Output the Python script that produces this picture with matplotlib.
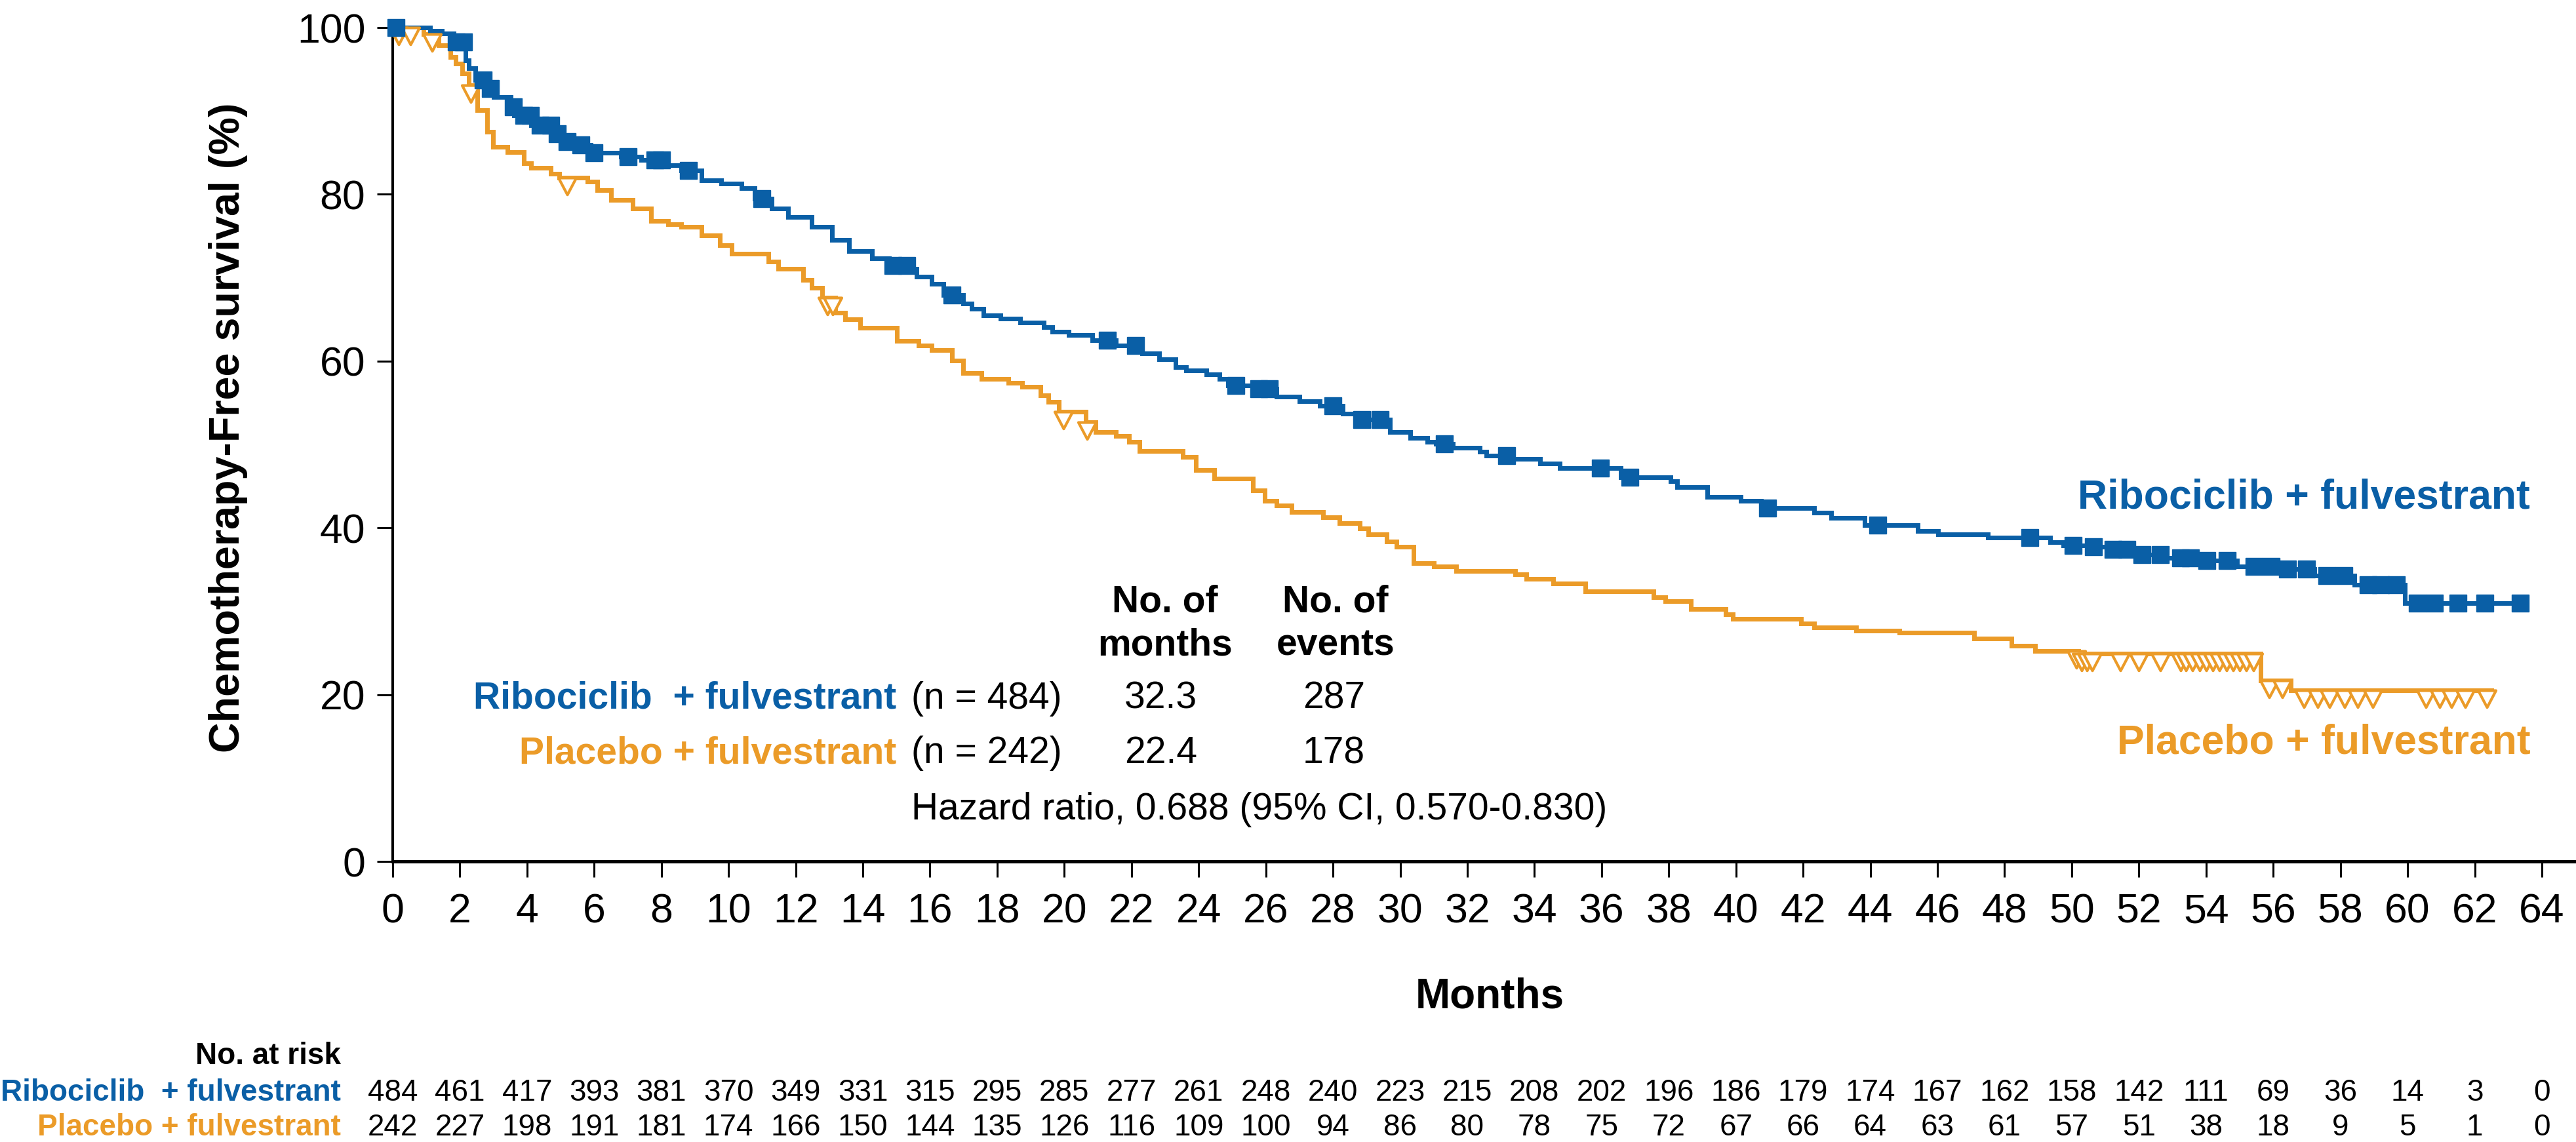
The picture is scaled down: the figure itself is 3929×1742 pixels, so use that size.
import numpy as np
import matplotlib
matplotlib.use("Agg")
import matplotlib.pyplot as plt
from matplotlib.path import Path
from matplotlib.transforms import blended_transform_factory

plt.rcParams['font.family'] = ['Liberation Sans', 'DejaVu Sans']

BLUE = '#0a5fa6'
ORANGE = '#eb9b28'

# ---------------- data ----------------
ribo_times = [0, 1.12, 1.47, 1.82, 2.17, 2.27, 2.46, 2.71, 3.01, 3.51, 3.61, 4.11, 4.71, 5.0,
              5.55, 5.9, 6.8, 7.4, 8.09, 8.59, 9.19, 9.79, 10.39, 10.78, 11.28, 11.78, 12.48,
              13.08, 13.58, 14.27, 14.77, 15.45, 15.6, 16.05, 16.4, 16.99, 17.24, 17.59, 18.09,
              18.69, 19.39, 19.64, 20.13, 20.83, 21.53, 22.32, 22.82, 23.32, 23.62, 24.22, 24.62,
              24.87, 25.61, 26.31, 27.0, 27.6, 28.3, 28.7, 29.7, 30.3, 30.8, 31.07, 31.57, 32.37,
              32.57, 33.37, 34.16, 34.76, 36.56, 38.05, 38.25, 39.15, 40.14, 40.74, 42.33, 42.83,
              43.83, 45.42, 46.02, 47.5, 49.35, 49.74, 50.53, 51.08, 51.74, 52.84, 53.72, 54.93,
              56.02, 57.22, 58.41, 59.91]
ribo_surv = [100, 99.6, 99.3, 98.3, 96.1, 95.1, 93.7, 92.7, 91.7, 90.5, 89.5, 88.3, 87.3, 86.3,
             85.9, 85.0, 84.5, 84.1, 83.5, 82.9, 81.7, 81.3, 80.7, 79.5, 78.3, 77.3, 76.1,
             74.5, 73.2, 72.3, 71.5, 71.1, 70.1, 69.3, 67.9, 66.9, 66.3, 65.5, 65.1,
             64.6, 64.1, 63.5, 63.1, 62.5, 61.9, 60.9, 60.2, 59.3, 58.9, 58.4, 57.9,
             57.1, 56.7, 55.7, 55.2, 54.6, 53.7, 53.0, 51.5, 50.8, 50.3, 50.1, 49.6, 49.1,
             48.7, 48.3, 47.7, 47.2, 46.1, 45.6, 44.9, 43.7, 43.2, 42.4, 41.8, 41.2,
             40.3, 39.6, 39.2, 38.8, 38.3, 37.9, 37.7, 37.4, 36.8, 36.4, 36.1, 35.4,
             35.1, 34.3, 33.2, 31.0]
ribo_end = 63.4
ribo_censor = [0.1, 1.9, 2.1, 2.7, 2.9, 3.6, 3.9, 4.1, 4.4, 4.7, 4.9, 5.2, 5.6, 6.0, 7.0, 7.8,
               8.0, 8.8, 11.0, 14.9, 15.3, 16.65, 21.28, 22.13, 25.11, 25.8, 26.1, 28.0, 28.85,
               29.4, 31.32, 33.17, 35.96, 36.85, 40.94, 44.23, 48.75, 50.05, 50.65, 51.24,
               51.64, 52.09, 52.64, 53.24, 53.53, 54.03, 54.63, 55.43, 55.93, 56.42, 57.0,
               57.6, 58.1, 58.82, 59.2, 59.66, 60.3, 60.8, 61.5, 62.3, 63.35]

plac_times = [0, 0.92, 1.37, 1.72, 1.87, 2.07, 2.27, 2.51, 2.81, 2.99, 3.41, 3.91, 4.11, 4.71,
              4.96, 5.8, 6.1, 6.5, 7.15, 7.7, 8.2, 8.59, 9.19, 9.74, 10.09, 11.18, 11.48, 12.23,
              12.48, 12.78, 13.18, 13.48, 13.92, 15.02, 15.65, 16.05, 16.65, 16.99, 17.54, 18.34,
              18.74, 19.29, 19.53, 19.83, 20.63, 20.93, 21.53, 21.93, 22.23, 23.52, 23.92, 24.47,
              25.61, 25.96, 26.31, 26.76, 27.7, 28.2, 28.8, 29.05, 29.6, 29.9, 30.4, 31.0, 31.67,
              33.42, 33.76, 34.56, 35.51, 37.55, 37.9, 38.65, 39.7, 39.9, 41.94, 42.33, 43.58,
              44.87, 47.1, 48.2, 48.9, 50.2, 55.63, 56.52]
plac_surv = [100, 99.2, 97.9, 96.5, 95.7, 94.5, 93.1, 90.1, 87.5, 85.7, 85.1, 83.7, 83.2, 82.5,
             82.0, 81.5, 80.5, 79.3, 78.3, 76.8, 76.4, 76.1, 75.1, 73.9, 72.9, 71.9, 71.1, 69.7,
             68.8, 67.6, 65.8, 65.0, 64.0, 62.4, 61.9, 61.3, 60.1, 58.6, 57.9, 57.4,
             56.9, 55.9, 55.1, 53.9, 52.7, 51.5, 51.0, 50.3, 49.2, 48.5, 46.9, 45.9,
             44.5, 43.2, 42.7, 41.9, 41.3, 40.6, 39.9, 39.2, 38.4, 37.7, 35.8, 35.4, 34.8,
             34.4, 33.9, 33.3, 32.4, 31.7, 31.2, 30.3, 29.6, 29.1, 28.5, 28.1, 27.7,
             27.4, 26.7, 25.9, 25.2, 24.9, 21.7, 20.5]
plac_end = 62.5
plac_censor = [0.17, 0.52, 1.17, 2.33, 5.2, 12.95, 13.1, 19.98, 20.68, 50.14, 50.3, 50.45,
               50.6, 51.44, 51.99, 52.64, 53.24, 53.4, 53.6, 53.8, 54.0, 54.2, 54.4, 54.6,
               54.8, 55.0, 55.2, 55.4, 55.88, 56.27, 56.92, 57.32, 57.67, 58.12, 58.52,
               58.96, 60.55, 60.95, 61.3, 61.71, 62.36]

risk_months = list(range(0, 65, 2))
ribo_risk = [484, 461, 417, 393, 381, 370, 349, 331, 315, 295, 285, 277, 261, 248, 240, 223,
             215, 208, 202, 196, 186, 179, 174, 167, 162, 158, 142, 111, 69, 36, 14, 3, 0]
plac_risk = [242, 227, 198, 191, 181, 174, 166, 150, 144, 135, 126, 116, 109, 100, 94, 86,
             80, 78, 75, 72, 67, 66, 64, 63, 61, 57, 51, 38, 18, 9, 5, 1, 0]

ribo_label = 'Ribociclib + fulvestrant'
plac_label = 'Placebo + fulvestrant'
ribo_n, plac_n = 484, 242
ribo_median, plac_median = '32.3', '22.4'
ribo_events, plac_events = 287, 178
hr_text = 'Hazard ratio, 0.688 (95% CI, 0.570-0.830)'

# ---------------- figure ----------------
W, H = 3930, 1742
fig = plt.figure(figsize=(W / 100, H / 100), dpi=100)
ax_left, ax_right, ax_top, ax_bot = 599, 3930, 42, 1314
ax = fig.add_axes([ax_left / W, 1 - ax_bot / H, (ax_right - ax_left) / W, (ax_bot - ax_top) / H])
x_max = 64 * (ax_right - ax_left) / (3877 - ax_left)
ax.set_xlim(0, x_max)
ax.set_ylim(0, 100)


def step_value(times, surv, t):
    idx = np.searchsorted(np.asarray(times), t, side='right') - 1
    return np.asarray(surv)[idx]


def draw_curve(times, surv, end, censor, color, marker, mfc, ms, mew):
    tt = list(times) + [end]
    ss = list(surv) + [surv[-1]]
    ax.step(tt, ss, where='post', color=color, lw=5.0, clip_on=False, zorder=3,
            solid_joinstyle='miter')
    cy = step_value(times, surv, np.asarray(censor))
    ax.plot(censor, cy, linestyle='none', marker=marker, ms=ms, mfc=mfc, mec=color,
            mew=mew, clip_on=False, zorder=4)


tri = Path([(-1.0, 0.0), (1.0, 0.0), (0.0, -1.9), (-1.0, 0.0)],
           [Path.MOVETO, Path.LINETO, Path.LINETO, Path.CLOSEPOLY])

draw_curve(plac_times, plac_surv, plac_end, plac_censor, ORANGE, tri, 'white', 37, 3.0)
draw_curve(ribo_times, ribo_surv, ribo_end, ribo_censor, BLUE, 's', BLUE, 19, 1)

for s in ['top', 'right']:
    ax.spines[s].set_visible(False)
ax.spines['left'].set_linewidth(3.0)
ax.spines['bottom'].set_linewidth(3.6)
ax.spines['left'].set_bounds(0, 100)

ax.set_xticks(risk_months)
ax.set_yticks([0, 20, 40, 60, 80, 100])
ax.tick_params(axis='both', direction='out', length=17, width=2.2, labelsize=45)
ax.tick_params(axis='x', pad=17)
ax.tick_params(axis='y', pad=13)

fig.text(348 / W, 1 - 652 / H, 'Chemotherapy-Free survival (%)', rotation=90,
         ha='center', va='center', fontsize=46.5, fontweight='bold')
fig.text(2272 / W, 1 - 1537 / H, 'Months', ha='center', va='baseline',
         fontsize=46, fontweight='bold')

# curve labels
ax.text(63.65, 42.3, ribo_label, color=BLUE, fontsize=45, fontweight='bold',
        ha='right', va='baseline')
ax.text(63.67, 12.9, plac_label, color=ORANGE, fontsize=45, fontweight='bold',
        ha='right', va='baseline')

# summary table inside the plot
fs = 41
ax.text(22.99, 29.9, 'No. of', fontsize=fs, fontweight='bold', ha='center', va='baseline')
ax.text(22.99, 24.7, 'months', fontsize=fs, fontweight='bold', ha='center', va='baseline')
ax.text(28.07, 29.9, 'No. of', fontsize=fs, fontweight='bold', ha='center', va='baseline')
ax.text(28.07, 24.7, 'events', fontsize=fs, fontweight='bold', ha='center', va='baseline')
for lab, col, n, med, ev, yb in [(ribo_label.replace('b +', 'b  +'), BLUE, ribo_n, ribo_median, ribo_events, 18.35),
                                 (plac_label, ORANGE, plac_n, plac_median, plac_events, 11.77)]:
    ax.text(15.0, yb, lab, color=col, fontsize=fs, fontweight='bold', ha='right', va='baseline')
    ax.text(15.45, yb, f'(n = {n})', fontsize=fs, ha='left', va='baseline')
    ax.text(22.87, yb, med, fontsize=fs, ha='center', va='baseline')
    ax.text(28.03, yb, str(ev), fontsize=fs, ha='center', va='baseline')
ax.text(15.45, 5.0, hr_text, fontsize=fs, ha='left', va='baseline')

# number at risk table
tr = blended_transform_factory(ax.transData, fig.transFigure)
lab_x = (520 - ax_left) / 51.2
ax.text(lab_x, 1 - 1623 / H, 'No. at risk', transform=tr, fontsize=33, fontweight='bold',
        ha='right', va='baseline', clip_on=False)
ax.text(lab_x, 1 - 1679 / H, ribo_label.replace('b +', 'b  +'), transform=tr, fontsize=33,
        fontweight='bold', color=BLUE, ha='right', va='baseline', clip_on=False)
ax.text(lab_x, 1 - 1732 / H, plac_label, transform=tr, fontsize=33,
        fontweight='bold', color=ORANGE, ha='right', va='baseline', clip_on=False)
for m, r, p in zip(risk_months, ribo_risk, plac_risk):
    ax.text(m, 1 - 1679 / H, str(r), transform=tr, fontsize=33, ha='center', va='baseline',
            clip_on=False)
    ax.text(m, 1 - 1732 / H, str(p), transform=tr, fontsize=33, ha='center', va='baseline',
            clip_on=False)

fig.savefig('out.png', dpi=100, facecolor='white')
